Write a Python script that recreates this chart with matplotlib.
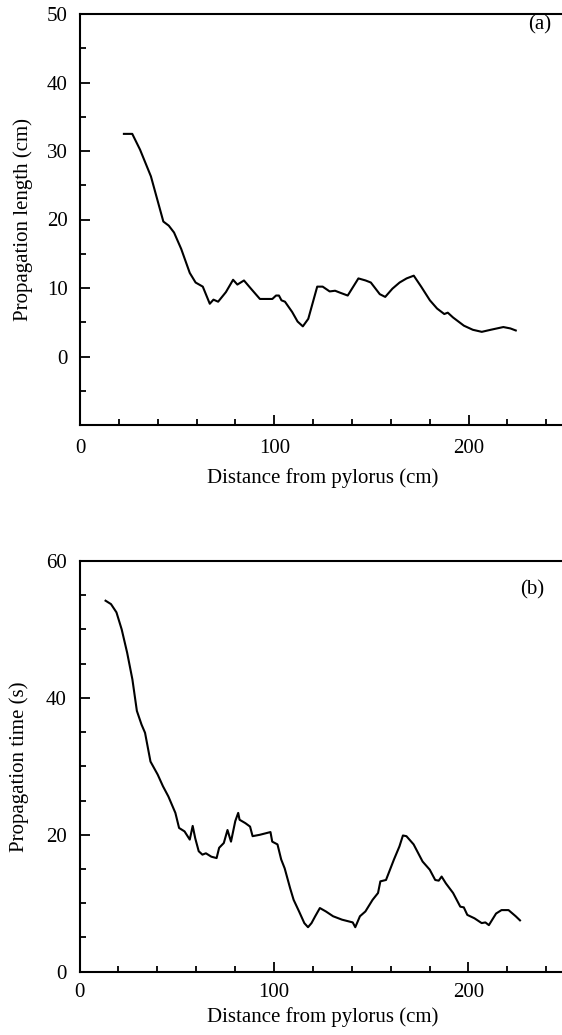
import matplotlib
matplotlib.use("Agg")
import matplotlib.pyplot as plt
from matplotlib.ticker import MultipleLocator, FixedLocator

plt.rcParams['font.family'] = ['Liberation Serif', 'DejaVu Serif']

# Panel (a): propagation length vs distance
dist_a = [22.6, 26.9, 30.9, 36.5, 42.9, 45.7, 48.4, 52.1, 56.5, 59.5, 63.2, 66.8,
          68.7, 71.1, 75.1, 78.8, 81.0, 84.4, 88.0, 92.6, 99.0, 100.9, 102.4, 103.7,
          105.5, 109.2, 112.0, 114.7, 117.5, 122.1, 124.9, 128.5, 131.3, 134.0, 137.8,
          143.3, 147.0, 149.7, 154.3, 157.1, 160.8, 164.5, 168.1, 171.8, 175.6, 180.1,
          183.8, 187.5, 189.3, 192.0, 197.6, 202.2, 206.8, 211.4, 217.9, 221.5, 224.3]
length_a = [32.5, 32.5, 30.2, 26.3, 19.7, 19.1, 18.1, 15.7, 12.2, 10.8, 10.2, 7.7,
            8.3, 8.0, 9.4, 11.2, 10.5, 11.1, 9.9, 8.4, 8.4, 8.9, 8.9, 8.2,
            8.0, 6.5, 5.1, 4.4, 5.5, 10.2, 10.2, 9.5, 9.6, 9.3, 8.9,
            11.4, 11.1, 10.8, 9.1, 8.7, 9.9, 10.8, 11.4, 11.8, 10.2, 8.2,
            7.0, 6.2, 6.4, 5.7, 4.5, 3.9, 3.6, 3.9, 4.3, 4.1, 3.8]

# Panel (b): propagation time vs distance
dist_b = [13.4, 16.2, 19.0, 21.7, 24.5, 27.2, 29.5, 31.9, 33.7, 36.5, 40.2, 42.9,
          45.7, 49.3, 51.2, 54.0, 56.7, 58.2, 59.5, 61.3, 63.2, 65.0, 67.8, 70.5,
          71.8, 74.2, 76.1, 77.9, 80.1, 81.6, 82.3, 85.3, 87.7, 89.0, 92.7, 98.2,
          99.1, 101.8, 103.7, 105.5, 108.3, 110.1, 112.9, 115.6, 117.5, 119.3, 121.2,
          123.6, 126.7, 130.4, 135.0, 140.5, 141.8, 144.2, 147.0, 150.7, 153.5, 154.7,
          157.6, 161.7, 164.5, 166.3, 168.1, 171.8, 176.4, 180.1, 182.9, 184.7, 186.2,
          188.4, 192.1, 195.8, 197.6, 199.4, 203.1, 206.8, 208.7, 210.5, 214.2, 217.0,
          220.6, 224.3, 226.5]
time_b = [54.2, 53.7, 52.5, 50.0, 46.6, 42.7, 38.1, 36.1, 34.9, 30.7, 28.8, 27.1,
          25.6, 23.2, 21.0, 20.5, 19.3, 21.3, 19.5, 17.6, 17.1, 17.3, 16.8, 16.6,
          18.1, 18.8, 20.7, 19.0, 22.0, 23.2, 22.2, 21.7, 21.2, 19.8, 20.0, 20.4,
          19.0, 18.6, 16.4, 15.1, 12.2, 10.5, 8.8, 7.1, 6.5, 7.1, 8.1,
          9.3, 8.8, 8.1, 7.6, 7.2, 6.5, 8.1, 8.8, 10.5, 11.5, 13.2,
          13.4, 16.4, 18.3, 19.9, 19.8, 18.6, 16.1, 14.9, 13.4, 13.3, 13.9,
          12.9, 11.5, 9.5, 9.4, 8.3, 7.8, 7.1, 7.2, 6.8, 8.5, 9.0,
          9.0, 8.1, 7.5]

xlabel = "Distance from pylorus (cm)"
ylabel_a = "Propagation length (cm)"
ylabel_b = "Propagation time (s)"

W, H = 562, 1035
fig = plt.figure(figsize=(W / 100, H / 100), dpi=100)

FS = 15

def style(ax):
    for s in ax.spines.values():
        s.set_linewidth(1.5)
    ax.tick_params(which='both', direction='in', width=1.3, labelsize=FS)
    ax.tick_params(which='major', length=7)
    ax.tick_params(which='minor', length=4.5)
    ax.tick_params(axis='x', which='both', pad=10)
    ax.tick_params(axis='y', which='both', pad=9)
    ax.tick_params(which='both', top=False, right=False)

# Top axes
ax1 = fig.add_axes([80 / W, (H - 425) / H, 485.7 / W, 411 / H])
ax1.plot(dist_a, length_a, color='black', lw=1.5)
ax1.set_xlim(0, 250)
ax1.set_ylim(-10, 50)
ax1.xaxis.set_major_locator(FixedLocator([0, 100, 200]))
ax1.xaxis.set_minor_locator(MultipleLocator(20))
ax1.yaxis.set_major_locator(FixedLocator([0, 10, 20, 30, 40, 50]))
ax1.yaxis.set_minor_locator(MultipleLocator(5))
style(ax1)
ax1.set_xlabel(xlabel, fontsize=FS, labelpad=7)
ax1.set_ylabel(ylabel_a, fontsize=FS)
ax1.yaxis.set_label_coords(-47 / 485.7, 0.5)
ax1.annotate("(a)", xy=(540 / W, 1 - 25 / H), xycoords='figure fraction',
             ha='center', va='center', fontsize=FS)

# Bottom axes
ax2 = fig.add_axes([79.5 / W, (H - 971.7) / H, 486.2 / W, 410.7 / H])
ax2.plot(dist_b, time_b, color='black', lw=1.5)
ax2.set_xlim(0, 250)
ax2.set_ylim(0, 60)
ax2.xaxis.set_major_locator(FixedLocator([0, 100, 200]))
ax2.xaxis.set_minor_locator(MultipleLocator(20))
ax2.yaxis.set_major_locator(FixedLocator([0, 20, 40, 60]))
ax2.yaxis.set_minor_locator(MultipleLocator(5))
style(ax2)
ax2.tick_params(axis='x', which='both', pad=8)
ax2.set_xlabel(xlabel, fontsize=FS, labelpad=4)
ax2.set_ylabel(ylabel_b, fontsize=FS)
ax2.yaxis.set_label_coords(-50 / 486.2, 0.5)
ax2.annotate("(b)", xy=(532 / W, 1 - 590 / H), xycoords='figure fraction',
             ha='center', va='center', fontsize=FS)

fig.savefig("out.png", dpi=100)
